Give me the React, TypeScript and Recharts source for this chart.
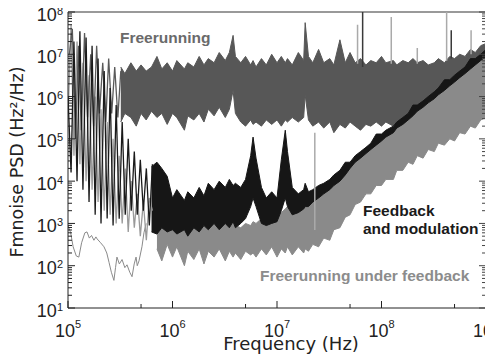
import { ComposedChart, Area, Line, XAxis, YAxis, ReferenceLine } from "recharts";

// frequency grid (Hz) for the three noise bands
const bandFreqs = [
  3.2e5, 3.5e5, 4e5, 4.5e5, 5e5, 5.6e5, 6.3e5, 7.1e5, 7.9e5, 8.9e5,
  1e6, 1.1e6, 1.3e6, 1.4e6, 1.6e6, 1.8e6, 2e6, 2.2e6, 2.5e6, 2.8e6,
  3.2e6, 3.5e6, 3.8e6, 4e6, 4.5e6, 5e6, 5.6e6, 5.9e6, 6.3e6, 7.1e6,
  7.9e6, 8.9e6, 1e7, 1.1e7, 1.2e7, 1.26e7, 1.4e7, 1.6e7, 1.8e7, 1.86e7,
  2e7, 2.2e7, 2.5e7, 2.8e7, 3.2e7, 3.5e7, 4e7, 4.5e7, 5e7, 5.6e7,
  6.3e7, 7.1e7, 7.9e7, 8.9e7, 1e8, 1.1e8, 1.3e8, 1.4e8, 1.6e8, 1.8e8,
  2e8, 2.2e8, 2.5e8, 2.8e8, 3.2e8, 3.5e8, 4e8, 4.5e8, 5e8, 5.6e8,
  6.3e8, 7.1e8, 7.9e8, 8.9e8, 1e9,
];

// Freerunning (upper / lower edge of the noise band)
const freeHigh = [
  5e6, 3.5e6, 6.3e6, 4e6, 5.6e6, 4e6, 5e6, 8.9e6, 4.5e6, 6.3e6,
  4e6, 7.1e6, 4.5e6, 6.3e6, 5e6, 8.9e6, 5.6e6, 7.9e6, 6.3e6, 1.1e7,
  7.1e6, 1.1e7, 2.8e7, 8.9e6, 6.3e6, 8.9e6, 5.6e6, 7.1e6, 5e6, 7.9e6,
  5.6e6, 1e7, 6.3e6, 8.9e6, 6.3e6, 7.9e6, 5.6e6, 1.1e7, 7.1e6, 5.6e7,
  8.9e6, 6.3e6, 1.3e7, 6.3e6, 7.9e6, 5.6e6, 2.2e7, 6.3e6, 1.1e7, 6.3e6,
  7.9e6, 5.6e6, 7.1e6, 6.3e6, 8.9e6, 6.3e6, 7.1e6, 5.6e6, 7.1e6, 6.3e6,
  7.9e6, 6.3e6, 7.1e6, 5.6e6, 6.3e6, 7.9e6, 6.3e6, 8.9e6, 7.9e6, 1e7,
  8.9e6, 1.3e7, 1.1e7, 1.6e7, 1.8e7,
];
const freeLow = [
  2.5e5, 4e5, 3.2e5, 2e5, 4e5, 2.8e5, 4.5e5, 3.2e5, 4e5, 2.2e5,
  4e5, 3.2e5, 1.6e5, 3.5e5, 2.8e5, 4e5, 2.5e5, 5e5, 3.5e5, 5.6e5,
  3.2e5, 5e5, 1.4e6, 4e5, 2.5e5, 2e5, 2.8e5, 2.2e5, 2.5e5, 2e5,
  2.8e5, 2.2e5, 2.8e5, 2e5, 2.8e5, 2.5e5, 3.2e5, 2.5e5, 3.2e5, 1.1e6,
  2.8e5, 2e5, 2.5e5, 1.8e5, 2.5e5, 1.4e5, 2.2e5, 1.8e5, 2.5e5, 2e5,
  1.6e5, 2.2e5, 2e5, 2.5e5, 2e5, 2.5e5, 2e5, 2.5e5, 2.5e5, 3.2e5,
  3.2e5, 4e5, 5e5, 6.3e5, 7.9e5, 1e6, 1.3e6, 1.6e6, 2e6, 2.5e6,
  3.2e6, 4e6, 5e6, 6.3e6, 7.9e6,
];

// Feedback and modulation (starts at the 7th grid frequency)
const fbStart = 6;
const fbHigh = [
  2.2e4, 2.8e4, 2e4, 1.3e4, 4e3, 6.3e3, 3.5e3, 5.6e3, 4e3, 7.1e3,
  4.5e3, 8.9e3, 6.3e3, 1e4, 7.1e3, 1.1e4, 7.9e3, 8.9e3, 7.1e3, 1.1e4,
  4e4, 1.1e5, 3.5e4, 7.1e3, 4e3, 5.6e3, 4e3, 3.2e4, 1.6e5, 5e4,
  7.1e3, 5e3, 6.3e3, 8.9e3, 5.6e3, 6.3e3, 7.9e3, 8.9e3, 1.1e4, 1.4e4,
  1.8e4, 2.8e4, 2.8e4, 4e4, 5e4, 6.3e4, 7.9e4, 1.3e5, 1.3e5, 1.6e5,
  2e5, 2.5e5, 3.2e5, 4e5, 6.3e5, 6.3e5, 7.9e5, 1e6, 1.3e6, 1.6e6,
  2.5e6, 2.5e6, 3.2e6, 4e6, 5e6, 7.9e6, 7.9e6, 1e7, 1.3e7,
];
const fbLow = [
  630, 560, 790, 630, 710, 560, 710, 500, 790, 630,
  890, 710, 1e3, 710, 1e3, 790, 1.1e3, 790, 1e3, 1.3e3,
  2.5e3, 4e3, 2.5e3, 1e3, 890, 1e3, 1.1e3, 2e3, 4e3, 2.5e3,
  1.6e3, 1.8e3, 2.2e3, 2.5e3, 2.5e3, 3.2e3, 4e3, 5e3, 6.3e3, 7.9e3,
  1e4, 1.4e4, 2e4, 2.8e4, 3.5e4, 4.5e4, 5.6e4, 7.1e4, 8.9e4, 1.1e5,
  1.4e5, 1.8e5, 2.2e5, 2.8e5, 3.5e5, 4.5e5, 5.6e5, 7.1e5, 8.9e5, 1.1e6,
  1.4e6, 1.8e6, 2.2e6, 2.8e6, 3.5e6, 4.5e6, 5.6e6, 7.1e6, 8.9e6,
];

// Freerunning under feedback (starts at the 8th grid frequency)
const ufbStart = 7;
const ufbHigh = [
  1.6e3, 2e3, 1.3e3,
  2.2e3, 1.3e3, 2e3, 1.1e3, 2e3, 1.4e3, 2.5e3, 1.6e3, 2.2e3, 1.4e3,
  2e3, 1.1e3, 1.3e3, 890, 790, 1e3, 890, 1.1e3, 1e3, 1.3e3,
  1.4e3, 1.6e3, 2e3, 1.8e3, 2.2e3, 2.5e3, 2.8e3, 2.8e3, 3.2e3, 3.5e3,
  4e3, 5e3, 6.3e3, 7.1e3, 8.9e3, 1.1e4, 1.4e4, 1.8e4, 2.2e4, 3.2e4,
  4e4, 5e4, 6.3e4, 7.9e4, 1e5, 1.3e5, 1.6e5, 2e5, 2.5e5, 3.2e5,
  4e5, 5e5, 6.3e5, 7.9e5, 1e6, 1.3e6, 1.6e6, 2e6, 2.5e6, 3.2e6,
  4e6, 5e6, 6.3e6, 7.9e6, 1e7,
];
const ufbLow = [
  250, 130, 320,
  160, 280, 100, 220, 140, 250, 110, 220, 160, 250,
  130, 220, 160, 200, 140, 220, 180, 200, 160, 250,
  180, 280, 160, 250, 200, 280, 180, 280, 200, 250,
  220, 320, 280, 450, 400, 710, 790, 1.4e3, 1.6e3, 2.8e3,
  3.2e3, 5e3, 5e3, 7.9e3, 7.9e3, 1.1e4, 1.1e4, 1.8e4, 1.8e4, 2.8e4,
  2.5e4, 4e4, 3.5e4, 5.6e4, 5e4, 7.9e4, 7.1e4, 1e5, 8.9e4, 1.4e5,
  1.3e5, 2e5, 1.8e5, 2.8e5, 3.2e5,
];

// low-frequency region: large oscillating spectra
const spikeFreqs = [
  1e5, 1.07e5, 1.14e5, 1.22e5, 1.3e5, 1.39e5, 1.49e5, 1.59e5, 1.7e5, 1.82e5,
  1.94e5, 2.07e5, 2.22e5, 2.37e5, 2.53e5, 2.7e5, 2.89e5, 3.09e5, 3.3e5, 3.53e5,
  3.77e5, 4.03e5, 4.31e5, 4.6e5, 4.92e5, 5.26e5, 5.62e5, 6e5, 6.42e5,
];
const fbSpikes = [
  1e6, 1.6e4, 2e7, 1e4, 3.5e7, 6.3e3, 2.5e7, 3.2e3, 1.6e7, 1.6e3,
  7.9e6, 1e3, 4e6, 1.3e3, 1.6e6, 890, 6.3e5, 1.3e3, 2.5e5, 1.6e3,
  1e5, 2e3, 5e4, 1.6e3, 3.2e4, 2e3, 2e4, 890, 2.5e4,
];
const ufbSpikes = [
  3.2e5, 5e7, 4e4, 2e7, 2.5e4, 6.3e6, 1e4, 3.2e6, 6.3e3, 1e6,
  3.2e3, 5e5, 2e3, 2.5e5, 1.6e3, 1e5, 1e3, 4e4, 1e3, 2e4,
  630, 1e4, 790, 5e3, 500, 3.2e3, 400, 4e3, 2e3,
];
const freeSpikeFreqs = [
  1.03e5, 1.1e5, 1.18e5, 1.26e5, 1.34e5, 1.44e5, 1.54e5, 1.65e5, 1.76e5, 1.88e5,
  2e5, 2.15e5, 2.3e5, 2.45e5, 2.62e5, 2.8e5, 3e5, 3.2e5,
];
const freeSpikes = [
  1e7, 4e7, 1e5, 1.6e7, 1.6e5, 3.2e7, 3.2e5, 1e7, 2e5, 1.6e7,
  4e5, 6.3e6, 2.5e5, 7.9e6, 4e5, 5e6, 3.2e5, 4e6,
];

// thin trace at the lowest frequencies
const thinFreqs = [
  1e5, 1.06e5, 1.12e5, 1.2e5, 1.27e5, 1.35e5, 1.45e5, 1.52e5, 1.6e5, 1.68e5,
  1.77e5, 1.85e5, 1.9e5, 2.05e5, 2.21e5, 2.35e5, 2.47e5, 2.6e5, 2.75e5, 2.85e5,
  2.94e5, 3.1e5, 3.29e5, 3.5e5, 3.67e5, 3.9e5, 4.1e5, 4.3e5, 4.48e5, 4.6e5,
  4.78e5, 5.1e5, 5.33e5, 5.6e5,
];
const thinVals = [
  900, 600, 280, 170, 160, 350, 600, 630, 450, 520,
  400, 480, 430, 350, 280, 200, 120, 70, 45, 90,
  160, 110, 140, 90, 105, 70, 55, 110, 160, 100,
  130, 280, 600, 1000,
];

// isolated narrow spurs (frequency, foot, tip)
const darkSpurFreqs = [6.6e7, 4.65e8];
const darkSpurFoot = [5e6, 8e6];
const darkSpurTip = [1e8, 3.7e7];
const lightSpurFreqs = [2.3e7, 5.9e7, 1.24e8, 2.2e8, 4.2e8, 7.2e8];
const lightSpurFoot = [700, 6e6, 6e6, 6e6, 7e6, 1e7];
const lightSpurTip = [1.4e5, 5e7, 7.6e7, 1.4e7, 1e8, 3.7e7];

const xMajor = [1e5, 1e6, 1e7, 1e8, 1e9];
const xMinor = [5e5, 5e6, 5e7, 5e8];
const yMajor = [10, 100, 1e3, 1e4, 1e5, 1e6, 1e7, 1e8];
const minorSteps = [2, 3, 4, 5, 6, 7, 8, 9];
const yMinor = yMajor.slice(0, -1).flatMap((d) => minorSteps.map((m) => m * d));

const band = (lo: number[], hi: number[], start: number) =>
  bandFreqs.slice(start).map((f, i) => ({ f, r: [lo[i], hi[i]] }));
const trace = (freqs: number[], vals: number[]) =>
  vals.map((v, i) => ({ f: freqs[i], v }));
const spurs = (freqs: number[], foot: number[], tip: number[]) =>
  freqs.flatMap((f, i) => [
    { f, v: foot[i] },
    { f, v: tip[i] },
    { f, v: null },
  ]);

const tickFont = "'Liberation Sans', Arial, sans-serif";
const labelFont = "'Liberation Sans', Arial, sans-serif";

const expOf = (v: number) => Math.round(Math.log10(v));

function BottomTick(props: any) {
  const { x, y, payload } = props;
  const major = xMajor.includes(payload.value);
  return (
    <g>
      <line x1={x} y1={y} x2={x} y2={y - (major ? 7 : 4)} stroke="#222" />
      {major && (
        <text x={x} y={y + 29} textAnchor="middle" fontSize={18} fill="#222" fontFamily={tickFont}>
          10
          <tspan dy={-9} fontSize={11}>
            {expOf(payload.value)}
          </tspan>
        </text>
      )}
    </g>
  );
}

function LeftTick(props: any) {
  const { x, y, payload } = props;
  const major = yMajor.includes(payload.value);
  return (
    <g>
      <line x1={x} y1={y} x2={x + (major ? 7 : 4)} y2={y} stroke="#222" />
      {major && (
        <text x={x - 5} y={y + 8.5} textAnchor="end" fontSize={18} fill="#222" fontFamily={tickFont}>
          10
          <tspan dy={-6} fontSize={11}>
            {expOf(payload.value)}
          </tspan>
        </text>
      )}
    </g>
  );
}

function RightTick(props: any) {
  const { x, y, payload } = props;
  const major = yMajor.includes(payload.value);
  return <line x1={x} y1={y} x2={x - (major ? 7 : 4)} y2={y} stroke="#444" />;
}

export default function App() {
  const yTicks = [...yMajor, ...yMinor].sort((a, b) => a - b);
  const xTicks = [...xMajor, ...xMinor].sort((a, b) => a - b);
  return (
    <div style={{ position: "relative", width: 493, height: 363, margin: "-8px 0 0 -8px" }}>
      <ComposedChart width={493} height={363} margin={{ top: 12, right: 0, bottom: 5, left: 8 }}>
        <XAxis
          dataKey="f"
          type="number"
          scale="log"
          domain={[1e5, 1e9]}
          allowDataOverflow
          ticks={xTicks}
          interval={0}
          tick={<BottomTick />}
          tickLine={false}
          tickSize={0}
          tickMargin={0}
          height={50}
          axisLine={{ stroke: "#222" }}
        />
        <YAxis
          yAxisId="left"
          type="number"
          scale="log"
          domain={[10, 1e8]}
          allowDataOverflow
          ticks={yTicks}
          interval={0}
          tick={<LeftTick />}
          tickLine={false}
          tickSize={0}
          tickMargin={0}
          width={60}
          axisLine={{ stroke: "#222" }}
        />
        <YAxis
          yAxisId="right"
          orientation="right"
          type="number"
          scale="log"
          domain={[10, 1e8]}
          allowDataOverflow
          ticks={yTicks}
          interval={0}
          tick={<RightTick />}
          tickLine={false}
          tickSize={0}
          tickMargin={0}
          width={7}
          axisLine={{ stroke: "#666" }}
        />
        <ReferenceLine yAxisId="left" y={1e8} stroke="#777" strokeWidth={1.5} />

        <Area
          yAxisId="left"
          data={band(freeLow, freeHigh, 0)}
          dataKey="r"
          type="linear"
          fill="#575757"
          fillOpacity={1}
          stroke="#575757"
          strokeWidth={1}
          isAnimationActive={false}
        />
        <Line
          yAxisId="left"
          data={spurs(darkSpurFreqs, darkSpurFoot, darkSpurTip)}
          dataKey="v"
          type="linear"
          stroke="#3a3a3a"
          strokeWidth={1.5}
          dot={false}
          isAnimationActive={false}
        />
        <Line
          yAxisId="left"
          data={spurs(lightSpurFreqs, lightSpurFoot, lightSpurTip)}
          dataKey="v"
          type="linear"
          stroke="#aaaaaa"
          strokeWidth={1.5}
          dot={false}
          isAnimationActive={false}
        />
        <Area
          yAxisId="left"
          data={band(ufbLow, ufbHigh, ufbStart)}
          dataKey="r"
          type="linear"
          fill="#8a8a8a"
          fillOpacity={1}
          stroke="#8a8a8a"
          strokeWidth={1}
          isAnimationActive={false}
        />
        <Area
          yAxisId="left"
          data={band(fbLow, fbHigh, fbStart)}
          dataKey="r"
          type="linear"
          fill="#161616"
          fillOpacity={1}
          stroke="#161616"
          strokeWidth={1}
          isAnimationActive={false}
        />
        <Line
          yAxisId="left"
          data={trace(thinFreqs, thinVals)}
          dataKey="v"
          type="linear"
          stroke="#8a8a8a"
          strokeWidth={1}
          dot={false}
          isAnimationActive={false}
        />
        <Line
          yAxisId="left"
          data={trace(spikeFreqs, ufbSpikes)}
          dataKey="v"
          type="linear"
          stroke="#9a9a9a"
          strokeWidth={1.3}
          dot={false}
          isAnimationActive={false}
        />
        <Line
          yAxisId="left"
          data={trace(freeSpikeFreqs, freeSpikes)}
          dataKey="v"
          type="linear"
          stroke="#5a5a5a"
          strokeWidth={1.3}
          dot={false}
          isAnimationActive={false}
        />
        <Line
          yAxisId="left"
          data={trace(spikeFreqs, fbSpikes)}
          dataKey="v"
          type="linear"
          stroke="#1a1a1a"
          strokeWidth={1.3}
          dot={false}
          isAnimationActive={false}
        />
      </ComposedChart>
      <svg
        width={493}
        height={363}
        style={{ position: "absolute", left: 0, top: 0, pointerEvents: "none" }}
      >
        <text
          transform="translate(17,162) rotate(-90)"
          textAnchor="middle"
          dominantBaseline="central"
          fontSize={17.5}
          fill="#222"
          fontFamily="'DejaVu Sans', sans-serif"
        >
          Fmnoise PSD (Hz²/Hz)
        </text>
        <text x={291} y={350} textAnchor="middle" fontSize={18} fill="#222" fontFamily="'DejaVu Sans', sans-serif">
          Frequency (Hz)
        </text>
        <text x={120} y={43} fontSize={15.5} fontWeight="bold" fill="#6a6a6a" fontFamily={labelFont}>
          Freerunning
        </text>
        <text x={363} y={216} fontSize={15.5} fontWeight="bold" fill="#1a1a1a" fontFamily={labelFont}>
          Feedback
        </text>
        <text x={363} y={234} fontSize={15.5} fontWeight="bold" fill="#1a1a1a" fontFamily={labelFont}>
          and modulation
        </text>
        <text x={260} y={281} fontSize={15.5} fontWeight="bold" fill="#8c8c8c" fontFamily={labelFont}>
          Freerunning under feedback
        </text>
      </svg>
    </div>
  );
}
